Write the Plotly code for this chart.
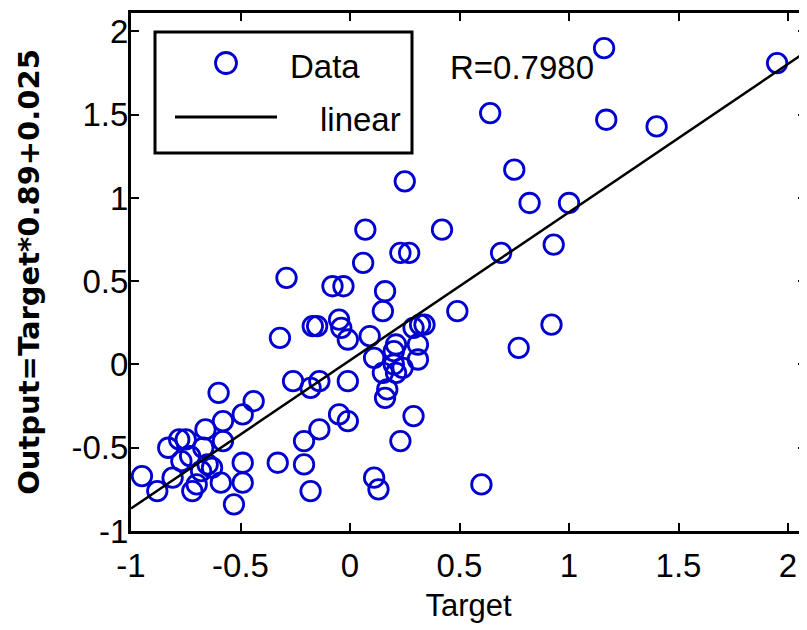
import plotly.graph_objects as go

# ---- data ----
target = [1.16, 1.95, 0.64, 1.17, 1.40, 0.75, 0.25, 0.82, 1.00, 0.42, 0.07, 0.23, 0.27, 0.69, 0.93,
          0.06, -0.29, -0.08, -0.03, 0.16, 0.15, 0.49, 0.92, 0.77, 0.60, 0.29, 0.23, -0.32, -0.17,
          -0.15, -0.05, -0.04, -0.01, 0.09, 0.11, 0.32, 0.34, 0.29, 0.21, 0.20, 0.31, 0.31, 0.15,
          0.24, 0.17, 0.16, 0.20, 0.21, -0.26, -0.18, -0.14, -0.01, -0.05, -0.01, -0.14, -0.21,
          -0.33, -0.21, -0.18, 0.11, 0.13, -0.60, -0.44, -0.49, -0.58, -0.66, -0.78, -0.75, -0.83,
          -0.58, -0.67, -0.77, -0.65, -0.63, -0.95, -0.88, -0.81, -0.72, -0.70, -0.59, -0.49, -0.49,
          -0.53, -0.68, -0.73]
output = [1.90, 1.81, 1.51, 1.47, 1.43, 1.17, 1.10, 0.97, 0.97, 0.81, 0.81, 0.67, 0.67, 0.67, 0.72,
          0.61, 0.52, 0.47, 0.47, 0.44, 0.32, 0.32, 0.24, 0.10, -0.72, -0.31, -0.46, 0.16, 0.23,
          0.23, 0.27, 0.22, 0.15, 0.17, 0.04, 0.24, 0.24, 0.22, 0.12, 0.08, 0.12, 0.03, -0.05,
          -0.02, -0.15, -0.20, 0.00, -0.05, -0.10, -0.14, -0.10, -0.10, -0.30, -0.34, -0.39, -0.46,
          -0.59, -0.60, -0.76, -0.68, -0.75, -0.17, -0.22, -0.30, -0.34, -0.39, -0.45, -0.45, -0.50,
          -0.46, -0.50, -0.58, -0.60, -0.62, -0.67, -0.76, -0.68, -0.76, -0.72, -0.71, -0.59, -0.71,
          -0.84, -0.64, -0.55]

fit_slope = 0.89
fit_intercept = 0.025
fit_x = [-1.0, 2.1]
R_value = 0.7980

x_ticks = [-1, -0.5, 0, 0.5, 1, 1.5, 2]
x_tick_labels = ["-1", "-0.5", "0", "0.5", "1", "1.5", "2"]
y_ticks = [-1, -0.5, 0, 0.5, 1, 1.5, 2]
y_tick_labels = ["-1", "-0.5", "0", "0.5", "1", "1.5", "2"]

fit_y = [fit_slope * v + fit_intercept for v in fit_x]

FONT = "Liberation Sans, Arial, sans-serif"
BLUE = "#0000d0"

fig = go.Figure()
fig.add_trace(go.Scatter(x=target, y=output, mode="markers", name="Data",
                         marker=dict(symbol="circle-open", size=19.5, color=BLUE,
                                     line=dict(width=2.8, color=BLUE)),
                         showlegend=False))
fig.add_trace(go.Scatter(x=fit_x, y=fit_y, mode="lines", name="linear",
                         line=dict(color="black", width=2.5), showlegend=False))

# page geometry (the page body adds an 8px offset)
W, H = 799, 622
L, R, T, B = 123, 1, 5, 99
PL, PT, PW, PH = 131, 13, 675, 518  # plot area in page pixels

def px(x):
    return (x - PL) / PW

def py(y):
    return (PT + PH - y) / PH

# manual legend box
fig.add_shape(type="rect", xref="paper", yref="paper", x0=px(155), x1=px(412), y0=py(153), y1=py(32),
              line=dict(color="black", width=3), fillcolor="white", layer="above")
fig.add_shape(type="circle", xref="paper", yref="paper", xsizemode="pixel", ysizemode="pixel",
              xanchor=px(226), yanchor=py(63), x0=-10.5, x1=10.5, y0=-10.5, y1=10.5,
              line=dict(color=BLUE, width=2.8), layer="above")
fig.add_shape(type="line", xref="paper", yref="paper", x0=px(175), x1=px(277), y0=py(117), y1=py(117),
              line=dict(color="black", width=3), layer="above")
fig.add_annotation(xref="paper", yref="paper", x=px(288), y=py(66), text="Data", showarrow=False,
                   xanchor="left", yanchor="middle", font=dict(family=FONT, size=33, color="black"))
fig.add_annotation(xref="paper", yref="paper", x=px(318), y=py(119), text="linear", showarrow=False,
                   xanchor="left", yanchor="middle", font=dict(family=FONT, size=33, color="black"))

fig.add_annotation(x=0.785, y=1.785, text="R=%.4f" % R_value, showarrow=False,
                   xanchor="center", yanchor="middle", font=dict(family=FONT, size=33, color="black"))

axis_common = dict(showline=True, linecolor="black", linewidth=3, mirror="ticks",
                   ticks="inside", ticklen=8, tickwidth=2, tickcolor="black",
                   showgrid=False, zeroline=False,
                   tickfont=dict(family=FONT, size=33, color="black"))

fig.update_xaxes(range=[-1, 2.082], tickvals=x_ticks, ticktext=x_tick_labels,
                 title=dict(text="Target", font=dict(family=FONT, size=31, color="black"), standoff=12),
                 ticklabelstandoff=3, **axis_common)
fig.update_yaxes(range=[-1, 2.111], tickvals=y_ticks, ticktext=y_tick_labels,
                 title=dict(text="Output=Target*0.89+0.025",
                            font=dict(family="DejaVu Sans", size=29, color="black", weight="bold"),
                            standoff=24),
                 ticklabelstandoff=-7, **axis_common)

fig.update_layout(width=W, height=H, margin=dict(l=L, r=R, t=T, b=B, autoexpand=False),
                  plot_bgcolor="white", paper_bgcolor="white", showlegend=False)

fig.write_html("out.html")
